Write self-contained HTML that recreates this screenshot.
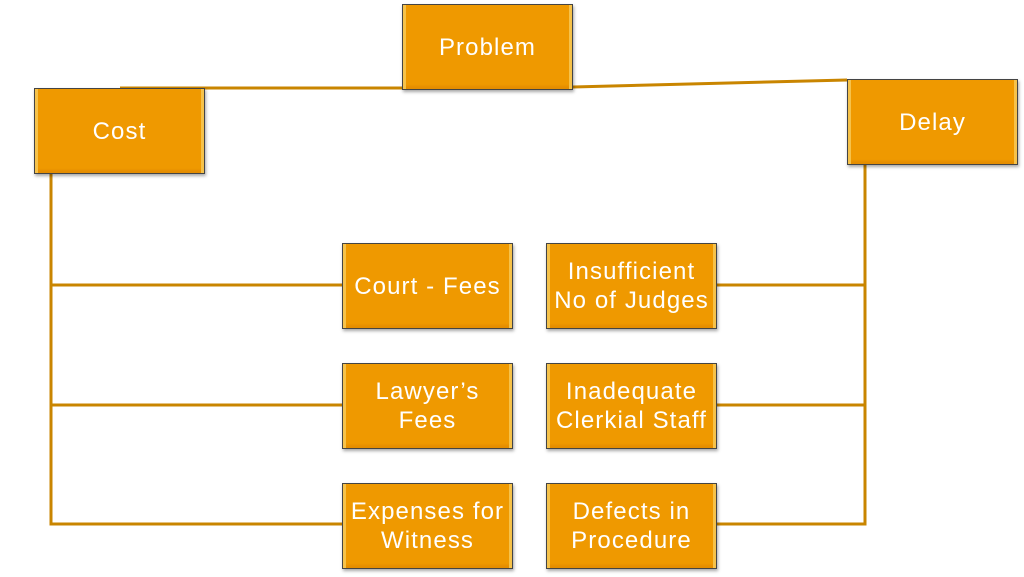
<!DOCTYPE html>
<html><head><style>
body{margin:0;width:1024px;height:577px;background:#fff;position:relative;overflow:hidden;font-family:"Liberation Sans",sans-serif}
.b{position:absolute;width:169px;height:84px;background:#ef9900;border:1px solid #444;box-shadow:1px 2px 3px rgba(0,0,0,.35), inset 4px 0 0 -1px #f6c24a, inset -4px 0 0 -1px #f6c24a, inset 0 -3px 2px #e48d00;color:#fff;font-size:24px;line-height:29px;display:flex;align-items:center;justify-content:center;text-align:center;white-space:nowrap;letter-spacing:1.1px}
svg{position:absolute;left:0;top:0}
</style></head><body>
<svg width="1024" height="577"><g stroke="#c98500" stroke-width="3" fill="none">
<line x1="120" y1="88" x2="402" y2="88"/>
<line x1="573" y1="87" x2="847" y2="80"/>
<polyline points="51,174 51,524 342,524"/>
<line x1="51" y1="285" x2="342" y2="285"/>
<line x1="51" y1="405" x2="342" y2="405"/>
<polyline points="865,164 865,524 717,524"/>
<line x1="717" y1="285" x2="865" y2="285"/>
<line x1="717" y1="405" x2="865" y2="405"/>
</g></svg>
<div class="b" style="left:402px;top:4px">Problem</div>
<div class="b" style="left:34px;top:88px">Cost</div>
<div class="b" style="left:847px;top:79px">Delay</div>
<div class="b" style="left:342px;top:243px">Court - Fees</div>
<div class="b" style="left:342px;top:363px">Lawyer’s<br>Fees</div>
<div class="b" style="left:342px;top:483px">Expenses for<br>Witness</div>
<div class="b" style="left:546px;top:243px">Insufficient<br>No of Judges</div>
<div class="b" style="left:546px;top:363px">Inadequate<br>Clerkial Staff</div>
<div class="b" style="left:546px;top:483px">Defects in<br>Procedure</div>
</body></html>
